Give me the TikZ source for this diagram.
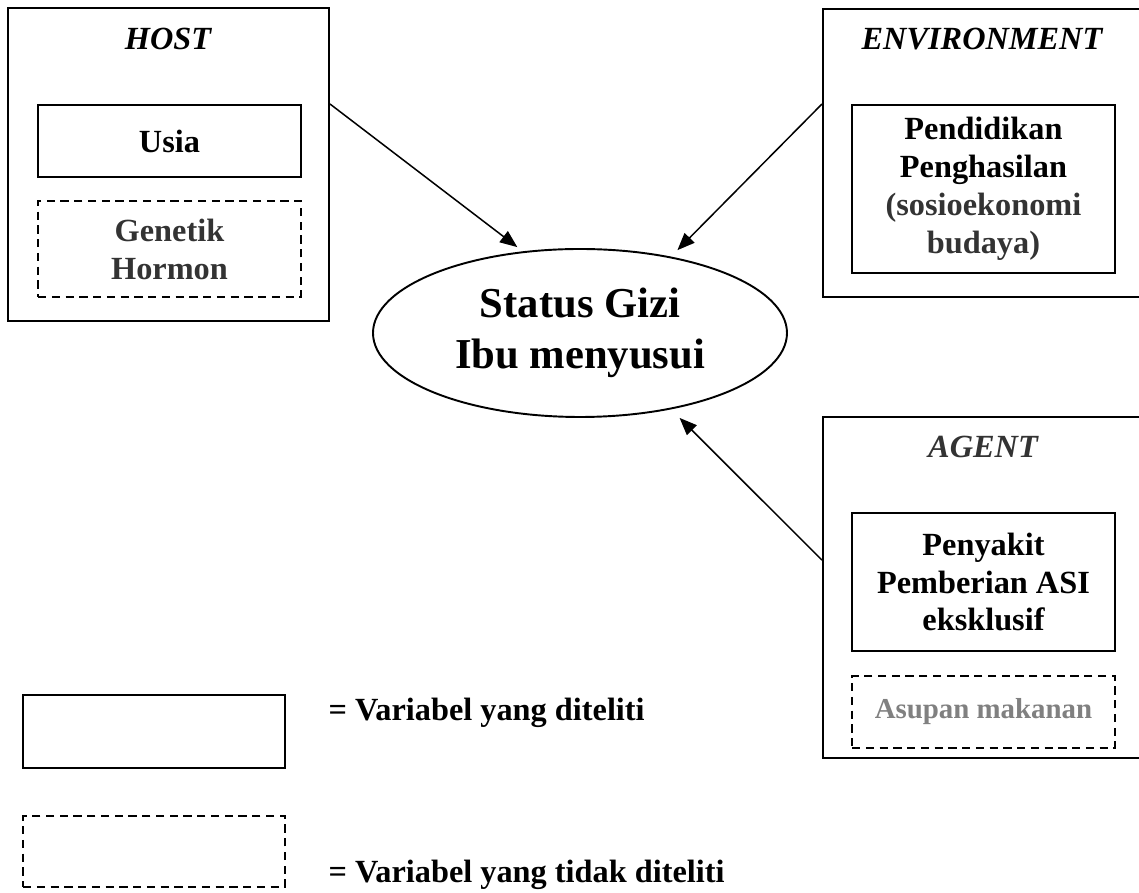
\documentclass[tikz,border=0pt]{standalone}
\usepackage{fontspec}
\setmainfont{Liberation Serif}
\usepackage{xcolor}
\definecolor{gizidarkgray}{HTML}{333333}
\definecolor{gizigray}{HTML}{808080}
\usepackage{tikz}
\usetikzlibrary{%
      shapes.geometric,%
      arrows.meta,%
  calc%
  }
\newcommand{\pxunit}{0.3636pt}

\begin{document}
\begin{tikzpicture}[x=\pxunit,y=-\pxunit,
    every node/.style={font=\bfseries\fontsize{11.75}{13.8}\selectfont,align=center,inner sep=0pt},
    groupbox/.style={draw,line width=0.75pt},
    varbox/.style={draw,line width=0.7pt,minimum width=263*\pxunit},
    novarbox/.style={draw,line width=0.55pt,dash pattern=on 3pt off 2pt,minimum width=263*\pxunit},
    grouptitle/.style={anchor=base,font=\bfseries\itshape\fontsize{11.75}{13.8}\selectfont},
    arr/.style={-{Triangle[length=6.3pt,width=5pt]},line width=0.55pt}]
    \useasboundingbox (0,0) rectangle (1139,893);
    \fill[white] (0,0) rectangle (1139,893);
  % host
    \node[groupbox,minimum width=321*\pxunit,minimum height=313*\pxunit] (host) at (168.5,164.5) {};
    \node[grouptitle] (hosttitle) at (168,50) {HOST};
    \node[varbox,minimum height=72*\pxunit] (usia) at (169.5,141) {Usia};
    \node[novarbox,minimum height=96*\pxunit,text=gizidarkgray] (genetik) at (169.5,249) {Genetik\\Hormon};
  % environment (runs off the right edge)
    \node[groupbox,minimum width=322*\pxunit,minimum height=288*\pxunit] (env) at (984,153) {};
    \node[grouptitle] (envtitle) at (982,50) {ENVIRONMENT};
    \node[varbox,minimum height=168*\pxunit] (pend) at (983.5,189)
      {Pendidikan\\Penghasilan\\\textcolor{gizidarkgray}{(sosioekonomi}\\\textcolor{gizidarkgray}{budaya)}};
  % agent
    \node[groupbox,minimum width=322*\pxunit,minimum height=341*\pxunit] (agent) at (984,587.5) {};
    \node[grouptitle,text=gizidarkgray] (agenttitle) at (983,458) {AGENT};
    \node[varbox,minimum height=138*\pxunit] (penyakit) at (983.5,582) {Penyakit\\Pemberian ASI\\eksklusif};
    \node[novarbox,minimum height=72*\pxunit,text=gizigray,font=\bfseries\fontsize{10.5}{12}\selectfont] (asupan) at (983.5,712) {Asupan makanan};
  % status gizi
    \node[ellipse,draw,line width=0.7pt,minimum width=414*\pxunit,minimum height=168*\pxunit,
      font=\bfseries\fontsize{15.5}{18.4}\selectfont] (stat) at (580,333) {Status Gizi\\Ibu menyusui};
  % arrows
    \coordinate (agentout) at ($(agent.north west)!0.42!(agent.south west)$);
    \draw[arr,shorten >=2.5pt] (host.east |- usia.north) -- (stat.125);
    \draw[arr,shorten >=3.3pt] (env.west |- pend.north) -- (stat.40);
    \draw[arr,shorten >=4.4pt] (agentout) -- (stat.-40);
  % legend
    \node[varbox,minimum width=262*\pxunit,minimum height=73*\pxunit] (legvar) at (154,731.5) {};
    \node[novarbox,minimum width=262*\pxunit,minimum height=71*\pxunit] (legnovar) at (154,851.5) {};
    \node[anchor=base west] (legvartext) at (328,721) {= Variabel yang diteliti};
    \node[anchor=base west] (legnovartext) at (328,883) {= Variabel yang tidak diteliti};
    \end{tikzpicture}
\end{document}
